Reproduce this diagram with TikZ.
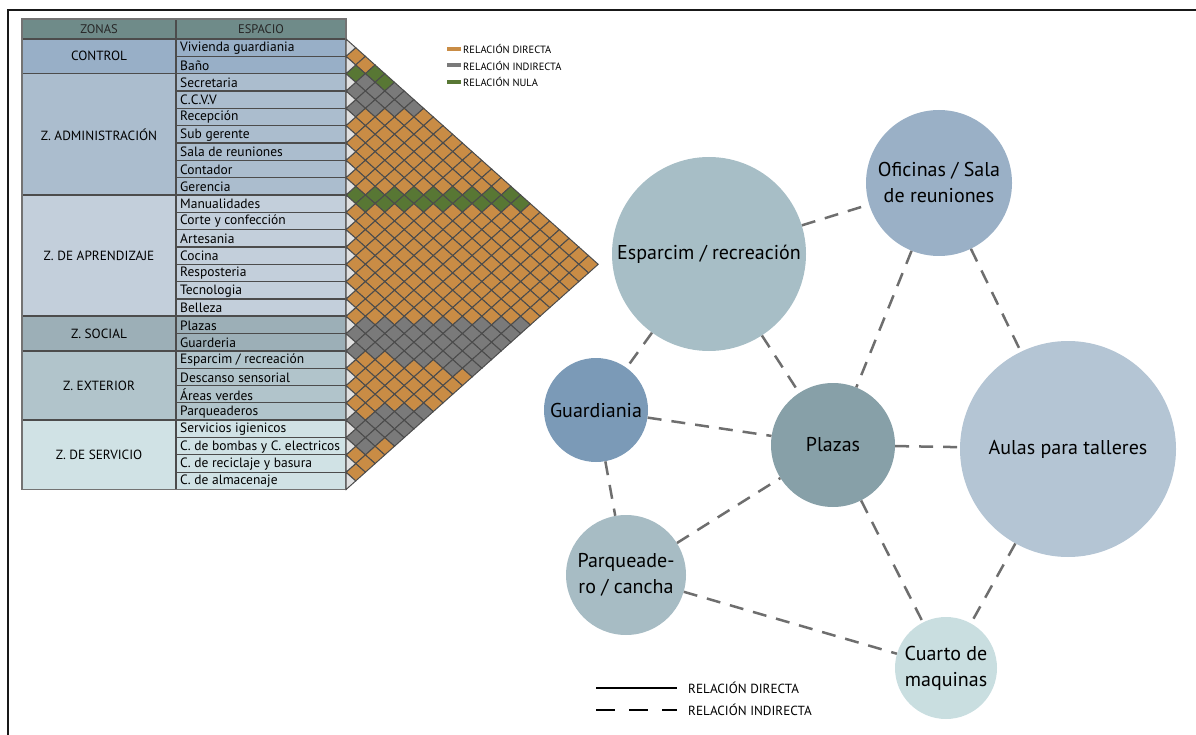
\documentclass[tikz,border=0pt]{standalone}
\usepackage{fontspec}
\setmainfont{PT Sans}
\usepackage{tikz}
\usetikzlibrary{positioning}
\definecolor{reldir}{RGB}{201, 140, 69}
\definecolor{relind}{RGB}{122, 122, 122}
\definecolor{relnul}{RGB}{88, 119, 52}
\definecolor{headteal}{RGB}{111, 139, 137}
\definecolor{zcontrol}{RGB}{152, 175, 199}
\definecolor{zadmin}{RGB}{171, 189, 206}
\definecolor{zaprend}{RGB}{195, 207, 219}
\definecolor{zsocial}{RGB}{156, 175, 183}
\definecolor{zexter}{RGB}{177, 196, 203}
\definecolor{zserv}{RGB}{208, 226, 229}
\definecolor{bubesp}{RGB}{167, 190, 198}
\definecolor{bubofi}{RGB}{154, 176, 198}
\definecolor{bubaula}{RGB}{180, 197, 212}
\definecolor{bubguar}{RGB}{123, 154, 183}
\definecolor{bubplaz}{RGB}{135, 160, 168}
\definecolor{bubparq}{RGB}{167, 188, 196}
\definecolor{bubcuar}{RGB}{201, 222, 224}
\definecolor{linkgray}{RGB}{110, 110, 110}

% colour of one matrix cell from its level s=i+j and offset d=j-i
\newcommand{\pickrel}[2]{%
  \def\relc{reldir}%
  \ifnum#1=3 \def\relc{relnul}\fi
  \ifnum#1>3 \ifnum#1<8 \def\relc{relind}\fi\fi
  \ifnum#1=4 \ifnum#2=4 \def\relc{relnul}\fi\fi
  \ifnum#1>16 \ifnum#1<19 \def\relc{relnul}\fi\fi
  \ifnum#1>31 \ifnum#1<36 \def\relc{relind}\fi\fi
  \ifnum#1=36 \ifnum#2>4 \def\relc{relind}\fi\fi
  \ifnum#1=37 \ifnum#2>9 \def\relc{relind}\fi\fi
  \ifnum#1=42 \ifnum#2>3 \def\relc{relind}\fi\fi
  \ifnum#1>42 \ifnum#1<46 \def\relc{relind}\fi\fi
  \ifnum#1=46 \ifnum#2<3 \def\relc{relind}\fi\fi
}

\begin{document}
\begin{tikzpicture}[
    x=1pt, y=-1pt,
    headtxt/.style={font=\fontsize{12.5}{13}\selectfont, text=black!85},
    zonetxt/.style={font=\fontsize{13.3}{14}\selectfont, text=black},
    esptxt/.style={anchor=west, inner sep=0pt, font=\fontsize{13.5}{14}\selectfont, text=black},
    zoneline/.style={draw=black!70, line width=1.6pt},
    rowline/.style={draw=black!70, line width=1.1pt},
    relcell/.style={draw=black!70, line width=1pt},
    legtxt/.style={anchor=west, inner sep=0pt, font=\fontsize{10.5}{11}\selectfont},
    keytxt/.style={anchor=west, inner sep=0pt, font=\fontsize{13.2}{14}\selectfont},
    bubble/.style={circle, inner sep=0pt, align=center, text=black,
                   font=\fontsize{20}{26}\selectfont},
    link/.style={draw=linkgray, line width=2.5pt, dash pattern=on 14pt off 10pt},
    frame/.style={draw=black!90, line width=2.8pt},
]
    \useasboundingbox (0,0) rectangle (1196,735);
    \draw[frame] (8,745) -- (8,10) -- (1205,10);

    % Left: zones and spaces table
    \def\rh{17.33}
    \fill[headteal] (22,19) rectangle (346,39);
    \node[headtxt] (hzonas) at (99,29) {ZONAS};
    \node[headtxt] (hesp) at (261,29) {ESPACIO};

    \foreach \a/\b/\zc/\zname [count=\z] in {0/2/zcontrol/CONTROL, 2/9/zadmin/Z. ADMINISTRACIÓN,
        9/16/zaprend/Z. DE APRENDIZAJE, 16/18/zsocial/Z. SOCIAL, 18/22/zexter/Z. EXTERIOR,
        22/26/zserv/Z. DE SERVICIO}{
      \fill[\zc] (22,39+\a*\rh) rectangle (346,39+\b*\rh);
      \node[zonetxt] (zone\z) at (99,39+\a*\rh/2+\b*\rh/2) {\zname};
    }

    \foreach \lbl [count=\k from 0] in {Vivienda guardiania, Baño, Secretaria, C.C.V.V, Recepción,
        Sub gerente, Sala de reuniones, Contador, Gerencia, Manualidades, Corte y confección,
        Artesania, Cocina, Resposteria, Tecnologia, Belleza, Plazas, Guarderia,
        Esparcim / recreación, Descanso sensorial, Áreas verdes, Parqueaderos,
        Servicios igienicos, C. de bombas y C. electricos, C. de reciclaje y basura,
        C. de almacenaje}{
      \node[esptxt] (esp\k) at (180,39+\k*\rh+\rh/2+0.5) {\lbl};
      \draw[rowline] (176,39+\k*\rh+\rh) -- (346,39+\k*\rh+\rh);
    }
    \foreach \b in {0,2,9,16,18,22}
      \draw[zoneline] (22,39+\b*\rh) -- (346,39+\b*\rh);
    \draw[zoneline] (176,19) -- (176,39+26*\rh);
    \draw[draw=black!55, line width=1.4pt] (22,19) rectangle (346,39+26*\rh);

    % Middle: relation matrix
    \def\hw{9.7}
    \def\hh{8.665}
    \foreach \i in {0,...,24}{
      \pgfmathtruncatemacro\js{\i+1}
      \foreach \j in {\js,...,25}{
        \pgfmathtruncatemacro\s{\i+\j}
        \pgfmathtruncatemacro\d{\j-\i}
        \pickrel{\s}{\d}
        \pgfmathsetmacro\cx{346+\d*\hw}
        \pgfmathsetmacro\cy{39+(\s+1)*\hh}
        \filldraw[relcell, fill=\relc] (\cx-\hw,\cy) -- (\cx,\cy-\hh) -- (\cx+\hw,\cy)
          -- (\cx,\cy+\hh) -- cycle;
      }
    }
    \foreach \i in {0,...,25}
      \filldraw[relcell, fill=black!12] (346,39+\i*\rh) -- (346+\hw,39+\i*\rh+\hh)
        -- (346,39+\i*\rh+\rh) -- cycle;

    % matrix key
    \foreach \kc/\ktxt [count=\n from 0] in {reldir/RELACIÓN DIRECTA, relind/RELACIÓN INDIRECTA,
        relnul/RELACIÓN NULA}{
      \fill[\kc] (447,47+\n*16.5) rectangle (461,51+\n*16.5);
      \node[legtxt] (mkey\n) at (463,49+\n*16.5) {\ktxt};
    }

    % Right: bubble diagram
    \node[bubble, fill=bubesp, minimum size=194pt] (esparcim) at (709,254) {Esparcim / recreación};
    \node[bubble, fill=bubofi, minimum size=146pt] (oficinas) at (939,183) {Oficinas / Sala\\de reuniones};
    \node[bubble, fill=bubaula, minimum size=216pt] (aulas) at (1068,449) {Aulas para talleres};
    \node[bubble, fill=bubguar, minimum size=104pt] (guardiania) at (596,410) {Guardiania};
    \node[bubble, fill=bubplaz, minimum size=124pt] (plazas) at (833,445) {Plazas};
    \node[bubble, fill=bubparq, minimum size=120pt] (parqueadero) at (626,575) {Parqueade-\\ro / cancha};
    \node[bubble, fill=bubcuar, minimum size=102pt] (cuarto) at (946,668) {Cuarto de\\maquinas};

    \draw[link] (esparcim) -- (oficinas);
    \draw[link] (esparcim) -- (guardiania);
    \draw[link] (esparcim) -- (plazas);
    \draw[link] (oficinas) -- (plazas);
    \draw[link] (oficinas) -- (aulas);
    \draw[link] (guardiania) -- (plazas);
    \draw[link] (plazas) -- (aulas);
    \draw[link] (guardiania) -- (parqueadero);
    \draw[link] (parqueadero) -- (plazas);
    \draw[link] (plazas) -- (cuarto);
    \draw[link] (parqueadero) -- (cuarto);
    \draw[link] (aulas) -- (cuarto);

    % line key
    \coordinate (dirA) at (596,688);
    \coordinate (dirB) at (677,688);
    \coordinate (indA) at (596,710);
    \coordinate (indB) at (677,710);
    \draw[line width=2.6pt] (dirA) -- (dirB);
    \draw[line width=2.6pt, dash pattern=on 19pt off 14pt] (indA) -- (indB);
    \node[keytxt] (kdir) at (688,688) {RELACIÓN DIRECTA};
    \node[keytxt] (kind) at (688,710) {RELACIÓN INDIRECTA};
\end{tikzpicture}
\end{document}
